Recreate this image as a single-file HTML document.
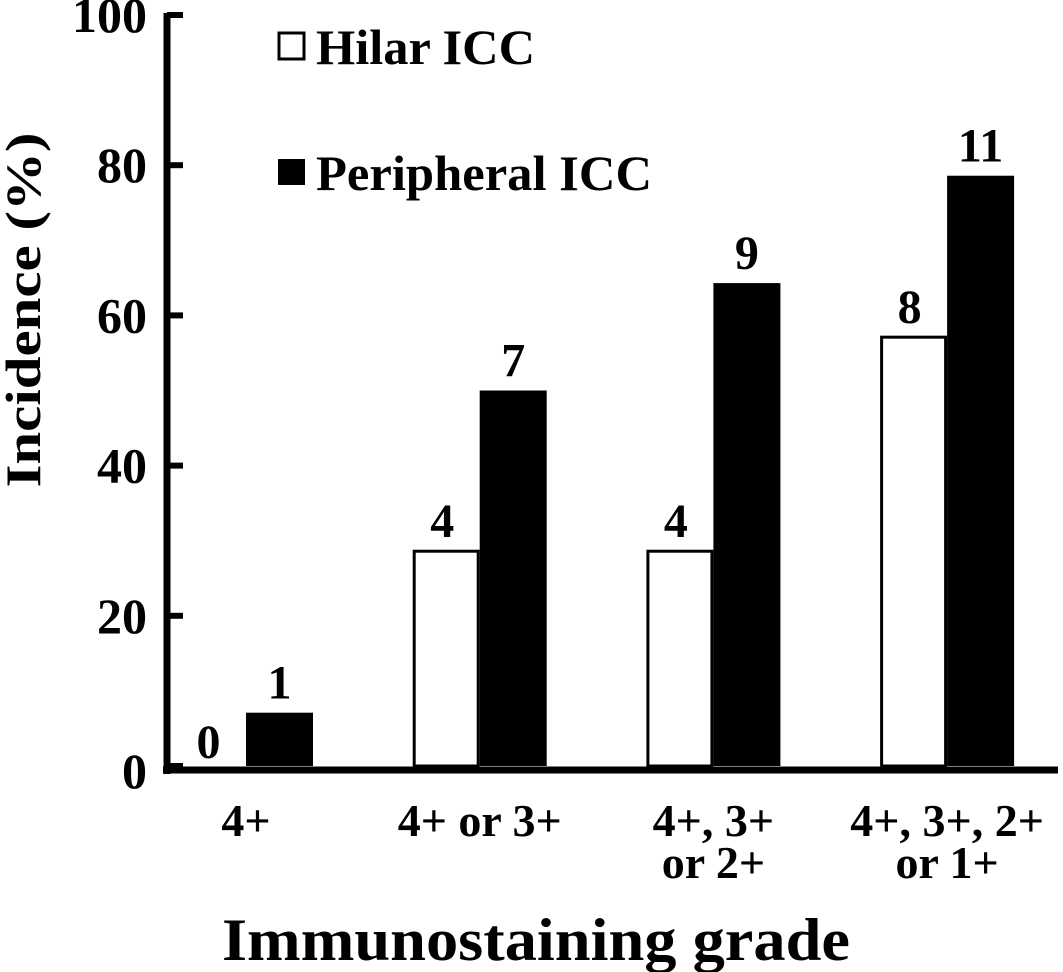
<!DOCTYPE html>
<html><head><meta charset="utf-8"><style>
html,body{margin:0;padding:0;background:#fff;}
svg{display:block;font-family:"Liberation Serif",serif;font-weight:bold;}
</style></head><body>
<svg id="chart" width="1063" height="972" viewBox="0 0 1063 972" xmlns="http://www.w3.org/2000/svg">
<g id="bars"></g>
<g id="axes"></g>
<g>
  <rect x="279" y="33" width="25" height="26" fill="#fff" stroke="#000" stroke-width="3"/>
  <text x="316" y="64" font-size="50" textLength="219" lengthAdjust="spacingAndGlyphs">Hilar ICC</text>
  <rect x="278" y="159" width="27" height="26" fill="#000"/>
  <text x="316" y="190" font-size="50" textLength="336" lengthAdjust="spacingAndGlyphs">Peripheral ICC</text>
</g>
<text transform="translate(40,310) rotate(-90)" text-anchor="middle" font-size="50" textLength="355" lengthAdjust="spacingAndGlyphs">Incidence (%)</text>
<text x="536" y="960" text-anchor="middle" font-size="60" textLength="628" lengthAdjust="spacingAndGlyphs">Immunostaining grade</text>
</svg>
<script>
const categories = [["4+"], ["4+ or 3+"], ["4+, 3+", "or 2+"], ["4+, 3+, 2+", "or 1+"]];
const hilarValues = [0, 28.6, 28.6, 57.1];
const peripheralValues = [7.1, 50, 64.3, 78.6];
const hilarCounts = ["0", "4", "4", "8"];
const peripheralCounts = ["1", "7", "9", "11"];
const yTicks = [0, 20, 40, 60, 80, 100];

const NS = "http://www.w3.org/2000/svg";
const y0 = 766, yTop = 15, xAxisLeft = 163;
function yScale(v){ return y0 - (y0 - yTop) * v / 100; }
function xCenter(i){ return 246 + i * 233.7; }
const bw = 67;
function mk(tag, attrs, parent, txt){
  const el = document.createElementNS(NS, tag);
  for (const k in attrs) el.setAttribute(k, attrs[k]);
  if (txt !== undefined) el.textContent = txt;
  parent.appendChild(el);
  return el;
}
const bars = document.getElementById('bars');
const axes = document.getElementById('axes');

categories.forEach((cat, i) => {
  const c = xCenter(i);
  const hv = hilarValues[i], pv = peripheralValues[i];
  if (hv > 0) {
    const r = mk('rect', {x: c - bw + 1.5, y: yScale(hv), width: bw - 3, height: y0 - yScale(hv), fill: '#fff', stroke: '#000', 'stroke-width': 3}, bars);
    
    
  }
  const p = mk('rect', {x: c, y: yScale(pv), width: bw, height: y0 - yScale(pv), fill: '#000'}, bars);
  
  
  const hl = mk('text', {x: c - bw / 2 - 4, y: hv > 0 ? yScale(hv) - 14 : y0 - 8, 'text-anchor': 'middle', 'font-size': 48}, bars, hilarCounts[i]);
  
  
  const pl = mk('text', {x: c + bw / 2, y: yScale(pv) - 14, 'text-anchor': 'middle', 'font-size': 48}, bars, peripheralCounts[i]);
  
  
  cat.forEach((line, j) => {
    const t = mk('text', {x: c, y: 836 + j * 42, 'text-anchor': 'middle', 'font-size': 46}, axes, line);
    
    
  });
});

const ya = mk('line', {x1: 167, y1: yTop - 2, x2: 167, y2: y0 + 8, stroke: '#000', 'stroke-width': 7}, axes);


const xa = mk('line', {x1: xAxisLeft, y1: y0 + 4, x2: 1058, y2: y0 + 4, stroke: '#000', 'stroke-width': 7}, axes);


yTicks.forEach(v => {
  const y = yScale(v);
  const tk = mk('line', {x1: 167, y1: y, x2: 183, y2: y, stroke: '#000', 'stroke-width': 6}, axes);
  
  
  const tl = mk('text', {x: 147, y: y + (v === 0 ? 22 : 17), 'text-anchor': 'end', 'font-size': 50}, axes, String(v));
  
  
});
</script>
</body></html>
